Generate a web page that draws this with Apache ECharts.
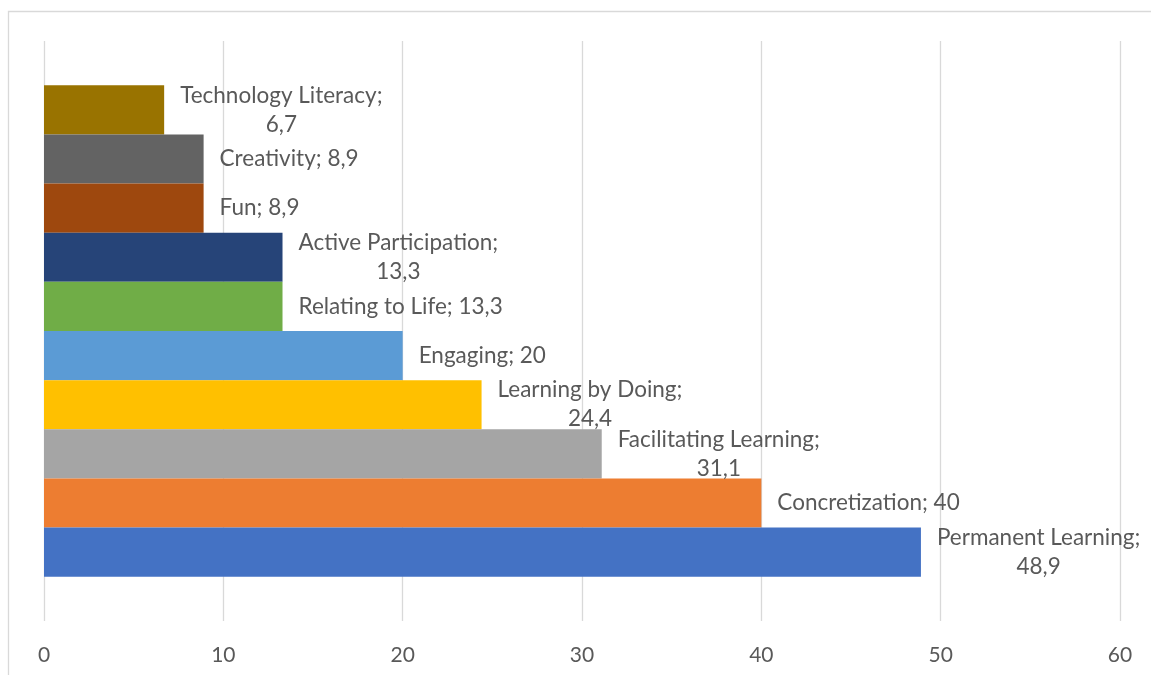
<!DOCTYPE html>
<html>
<head>
<meta charset="utf-8">
<script src="https://cdn.jsdelivr.net/npm/echarts@6/dist/echarts.min.js"></script>
<style>
  html, body { margin: 0; padding: 0; background: #fff; }
  #root { width: 1151px; height: 675px; }
</style>
</head>
<body>
<div id="root"></div>
<script>
  // categories listed top to bottom, as they appear in the chart
  // (echarts puts the first series at the top of a vertical category axis)
  var names = ['Technology Literacy', 'Creativity', 'Fun', 'Active Participation', 'Relating to Life',
    'Engaging', 'Learning by Doing', 'Facilitating Learning', 'Concretization', 'Permanent Learning'];
  var values = [6.7, 8.9, 8.9, 13.3, 13.3, 20, 24.4, 31.1, 40, 48.9];
  var colors = ['#997300', '#636363', '#9E480E', '#264478', '#70AD47',
    '#5B9BD5', '#FFC000', '#A5A5A5', '#ED7D31', '#4472C4'];
  // labels that wrap onto a second line
  var wrapped = ['Permanent Learning', 'Facilitating Learning', 'Learning by Doing',
    'Active Participation', 'Technology Literacy'];
  var ticks = [0, 10, 20, 30, 40, 50, 60];

  var fontFamily = 'Lato';
  var fmtNum = v => String(v).replace('.', ',');

  var series = names.map((name, i) => {
    var num = fmtNum(values[i]);
    var text = wrapped.indexOf(name) >= 0
      ? '{a|' + name + ';}\n{a|' + num + '}'
      : '{a|' + name + '; ' + num + '}';
    return {
      name,
      type: 'bar',
      data: [values[i]],
      barGap: '0%',
      barCategoryGap: '15.3%',
      itemStyle: { color: colors[i] },
      label: {
        show: true,
        position: 'right',
        distance: 16,
        formatter: () => text,
        rich: {
          a: { fontFamily, fontSize: 22.5, color: '#595959', align: 'center', lineHeight: 29 }
        }
      }
    };
  });

  var chart = echarts.init(document.getElementById('root'));
  chart.setOption({
    animation: false,
    grid: { left: 44, right: 31, top: 41, bottom: 54 },
    xAxis: {
      type: 'value',
      min: ticks[0],
      max: ticks[ticks.length - 1],
      interval: 10,
      axisLine: { show: false },
      axisTick: { show: false },
      axisLabel: { margin: 24, color: '#595959', fontFamily, fontSize: 21 },
      splitLine: { lineStyle: { color: '#d9d9d9', width: 1.3 } }
    },
    yAxis: {
      type: 'category',
      data: [''],
      axisLine: { show: false },
      axisTick: { show: false },
      axisLabel: { show: false }
    },
    series,
    graphic: [{
      type: 'rect',
      shape: { x: 8.5, y: 11.5, width: 1200, height: 700 },
      style: { fill: 'none', stroke: '#d9d9d9', lineWidth: 1.3 },
      silent: true
    }]
  });
</script>
</body>
</html>
